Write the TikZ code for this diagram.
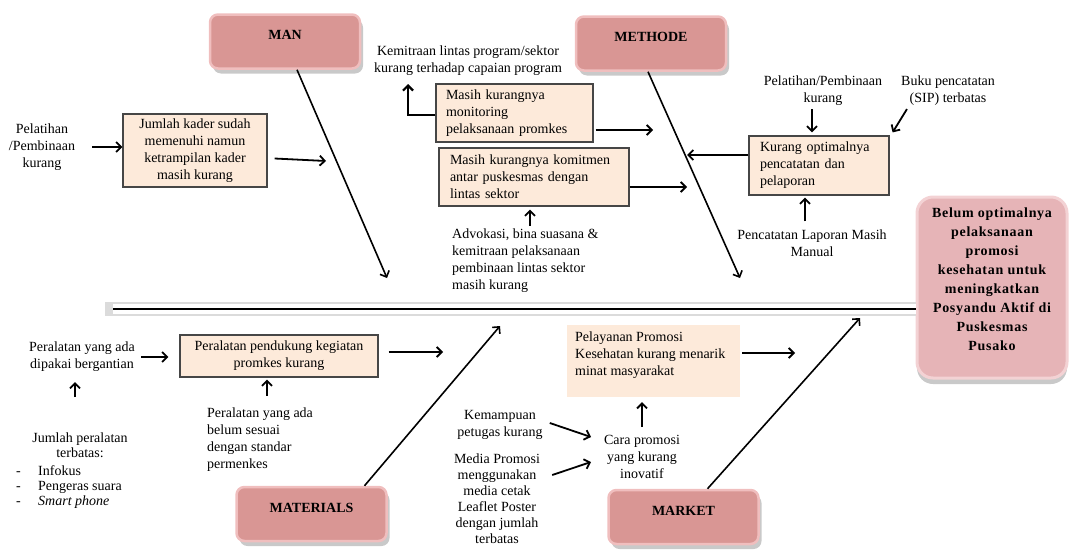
\documentclass[tikz,border=0pt]{standalone}
\usepackage{fontspec}
\setmainfont{Liberation Serif}
\newfontfamily\effectfont[LetterSpace=5]{Liberation Serif}
\usetikzlibrary{arrows.meta, shadows}
\definecolor{cause fill}{RGB}{253,234,218}
\definecolor{cause edge}{RGB}{70,70,70}
\definecolor{bone fill}{RGB}{217,150,148}
\definecolor{bone edge}{RGB}{240,190,190}
\definecolor{effect fill}{RGB}{230,180,183}
\definecolor{effect edge}{RGB}{243,210,212}
\tikzset{
  txt/.style={font=\fontsize{14}{17}\selectfont, inner sep=3pt},
  cause/.style={txt, fill=cause fill, draw=cause edge, line width=1.2pt, inner sep=0pt},
  category/.style={fill=bone fill, draw=bone edge, line width=2.5pt, rounded corners=8pt,
    minimum width=150pt, minimum height=54pt, font=\fontsize{14}{17}\selectfont\bfseries,
    text height=9.5pt, text depth=13pt,
    drop shadow={shadow xshift=3pt, shadow yshift=-5pt, opacity=0.3, fill=black!70}},
  effect box/.style={fill=effect fill, draw=effect edge, line width=3pt, rounded corners=16pt,
    drop shadow={shadow xshift=0pt, shadow yshift=-6pt, opacity=0.3, fill=black!70}},
  effect text/.style={font=\effectfont\fontsize{14}{19}\selectfont\bfseries, align=center},
  edge/.style={-{Straight Barb[length=5pt,width=10pt]}, line width=1.8pt},
  bone/.style={-{Straight Barb[length=5pt,width=10pt]}, line width=1.6pt}
}
\begin{document}
\begin{tikzpicture}[x=1pt, y=-1pt]
  \useasboundingbox (0,0) rectangle (1070,549);
  \node[effect box, minimum width=150pt, minimum height=181pt] (effect) at (992,287.5) {};
  \node[effect text] (effectTxt) at (992,279) {Belum optimalnya\\pelaksanaan\\promosi\\kesehatan untuk\\meningkatkan\\Posyandu Aktif di\\Puskesmas\\Pusako};
  \coordinate (spineStart) at (113,309);
  \draw[black!14, line width=14pt] ([xshift=-8pt]spineStart) -- (spineStart -| effect.west);
  \draw[white, line width=10pt] (spineStart) -- (spineStart -| effect.west);
  \draw[line width=2.6pt] (spineStart) -- (spineStart -| effect.west);

  \node[category] (man) at (285,41.5) {MAN};
  \node[category] (methode) at (651,43.5) {METHODE};
  \node[category] (materials) at (311.5,514) {MATERIALS};
  \node[category] (market) at (683.5,517) {MARKET};

  \coordinate (manTip) at (387,278);
  \coordinate (methTip) at (740,278);
  \coordinate (matTip) at (500,326);
  \coordinate (marTip) at (860,318);
  \draw[bone] ([xshift=12pt]man.south) -- (manTip);
  \draw[bone] ([xshift=-3pt]methode.south) -- (methTip);
  \draw[bone] ([xshift=53pt]materials.north) -- (matTip);
  \draw[bone] ([xshift=24pt]market.north) -- (marTip);

  \node[txt, align=center] (pelatihanA) at (42,147) {Pelatihan\\/Pembinaan\\kurang};
  \node[cause, align=center, minimum width=144pt, minimum height=73pt] (kader) at (195,150.5) {Jumlah kader sudah\\memenuhi namun\\ketrampilan kader\\masih kurang};
  \node[txt, align=center] (kemitraan) at (468,61) {Kemitraan lintas program/sektor\\kurang terhadap capaian program};
  \node[cause, align=left, text width=137pt, inner xsep=10pt, minimum height=58pt] (monitoring) at (514.5,113) {Masih kurangnya\\monitoring\\pelaksanaan promkes};
  \node[cause, align=left, text width=168pt, inner xsep=11pt, minimum height=58pt] (komitmen) at (534,177) {Masih kurangnya komitmen\\antar puskesmas dengan\\lintas sektor};
  \node[txt, align=left, anchor=west] (advokasi) at (449,261) {Advokasi, bina suasana \&\\kemitraan pelaksanaan\\pembinaan lintas sektor\\masih kurang};
  \node[cause, align=left, text width=118pt, inner xsep=11pt, minimum height=59pt] (pencatatan) at (819,165.5) {Kurang optimalnya\\pencatatan dan\\pelaporan};
  \node[txt, align=center] (pelatihanB) at (823,91) {Pelatihan/Pembinaan\\kurang};
  \node[txt, align=center] (buku) at (948,91) {Buku pencatatan\\(SIP) terbatas};
  \node[txt, align=center] (manual) at (812,243) {Pencatatan Laporan Masih\\Manual};

  \node[cause, align=center, minimum width=198pt, minimum height=42pt] (peralatan) at (279,356) {Peralatan pendukung kegiatan\\promkes kurang};
  \node[txt, align=center] (dipakai) at (82,357) {Peralatan yang ada\\dipakai bergantian};
  \node[txt, align=center, font=\fontsize{14}{15}\selectfont, inner sep=0pt] (jumlah) at (80,445) {Jumlah peralatan\\terbatas:};
  \node[txt, align=left, anchor=west, font=\fontsize{14}{15}\selectfont, inner sep=0pt] (daftar) at (16,487) {\makebox[22pt][l]{-}Infokus\\\makebox[22pt][l]{-}Pengeras suara\\\makebox[22pt][l]{-}\textit{Smart phone}};
  \node[txt, align=left, anchor=west] (standar) at (204,440) {Peralatan yang ada\\belum sesuai\\dengan standar\\permenkes};
  \node[fill=cause fill, minimum width=173pt, minimum height=72pt] (pelayanan) at (653.5,361) {};
  \node[txt, align=left, anchor=west, inner sep=0pt] (pelayananTxt) at (575,355) {Pelayanan Promosi\\Kesehatan kurang menarik\\minat masyarakat};
  \node[txt, align=center] (cara) at (642,457) {Cara promosi\\yang kurang\\inovatif};
  \node[txt, align=center] (kemampuan) at (500,425) {Kemampuan\\petugas kurang};
  \node[txt, align=center, font=\fontsize{14}{16}\selectfont, inner sep=0pt] (media) at (497,499) {Media Promosi\\menggunakan\\media cetak\\Leaflet Poster\\dengan jumlah\\terbatas};

  \coordinate (manIn) at (326,161);
  \coordinate (monIn) at (653,130);
  \coordinate (komIn) at (687,187);
  \coordinate (catIn) at (687,155);
  \coordinate (kemUp) at (408,84);
  \coordinate (matIn) at (443,352);
  \coordinate (marIn) at (795,353);
  \coordinate (caraIn) at (591,437);
  \coordinate (caraIn2) at (591,462);
  \coordinate (jumBase) at (75,397);

  \draw[edge] ([xshift=14pt]pelatihanA.east) -- (pelatihanA.east -| kader.west);
  \draw[edge] ([xshift=7pt,yshift=-8pt]kader.east) -- (manIn);
  \draw[edge] ([xshift=2pt,yshift=-17pt]monitoring.east) -- (monIn);
  \draw[edge] ([yshift=-10pt]komitmen.east) -- (komIn);
  \draw[edge, line width=2.2pt] ([yshift=-2pt]monitoring.west) -| (kemUp);
  \draw[edge, shorten >=3pt] ([xshift=-4pt]komitmen.south |- advokasi.north) -- ([xshift=-4pt]komitmen.south);
  \draw[edge] (catIn -| pencatatan.west) -- (catIn);
  \draw[edge, shorten >=3pt] ([xshift=-11pt]pelatihanB.south) -- ([xshift=-7pt]pencatatan.north);
  \draw[edge] ([xshift=9pt]buku.south west) -- ([shift={(3pt,3pt)}]pencatatan.north east);
  \draw[edge, shorten >=2pt] ([xshift=-14pt,yshift=5pt]pencatatan.south |- manual.north) -- ([xshift=-14pt]pencatatan.south);

  \draw[edge] ([xshift=3pt]dipakai.east) -- ([xshift=-11pt]dipakai.east -| peralatan.west);
  \draw[edge, shorten >=7pt] (jumBase) -- (jumBase |- dipakai.south);
  \draw[edge, shorten >=2pt] ([xshift=-12pt,yshift=9pt]peralatan.south |- standar.north) -- ([xshift=-12pt]peralatan.south);
  \draw[edge] ([xshift=10pt]peralatan.east |- matIn) -- (matIn);
  \draw[edge] ([xshift=4pt,yshift=2pt]kemampuan.east) -- (caraIn);
  \draw[edge] ([xshift=12pt,yshift=24pt]media.east) -- (caraIn2);
  \draw[edge, shorten >=5pt] ([yshift=5pt]cara.north) -- (cara.north |- pelayanan.south);
  \draw[edge] ([xshift=2pt]pelayanan.east |- marIn) -- (marIn);
\end{tikzpicture}
\end{document}
